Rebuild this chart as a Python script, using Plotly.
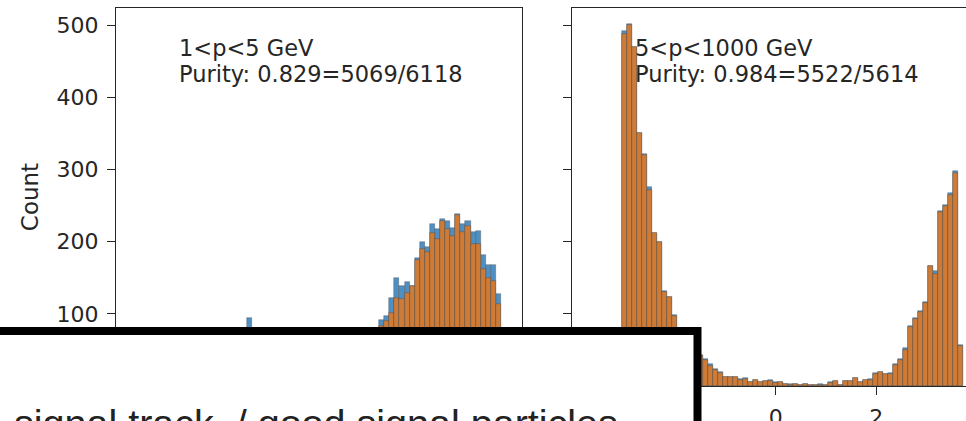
import numpy as np
import plotly.graph_objects as go

# ---------------- data ----------------
# Left panel (1<p<5 GeV): histogram bins (start, width) and counts
L_BIN_START = -2.455
L_BIN_WIDTH = 0.101
L_ALL = [8, 10, 9, 11, 12, 14, 13, 16, 15, 18,
         94,
         14, 15, 16, 15, 17, 18, 19, 21, 20, 23, 24, 26, 29, 31, 34, 37, 41, 45, 50, 56, 62, 69, 77, 80, 81,
         92, 97, 122, 149, 138, 144, 139, 177, 200, 192, 224, 217, 231, 228, 219, 238, 224, 228, 213, 215, 181, 167, 167, 127]
L_SIG = [2, 3, 2, 4, 3, 5, 4, 6, 5, 7,
         8,
         6, 7, 8, 8, 9, 10, 11, 12, 12, 14, 15, 16, 18, 20, 22, 25, 28, 31, 35, 40, 45, 51, 58, 65, 74,
         83, 90, 101, 122, 121, 129, 139, 175, 190, 185, 212, 204, 228, 218, 208, 237, 213, 222, 196, 196, 162, 150, 145, 113]

# Right panel (5<p<1000 GeV)
R_BIN_START = -3.05
R_BIN_WIDTH = 0.0997
R_ALL = [492, 501, 470, 350, 321, 275, 212, 199, 132, 123,
         98, 75, 64, 55, 48, 43, 38, 30, 23, 19,
         13, 13, 12, 10, 11, 6, 9, 6, 7, 8,
         5, 6, 3, 3, 3, 2, 3, 2, 1, 3,
         1, 5, 7, 2, 7, 7, 11, 6, 8, 10,
         18, 20, 16, 18, 30, 38, 52, 83, 94, 104,
         116, 166, 159, 243, 251, 268, 298, 57]
R_SIG = [488, 500, 470, 350, 320, 272, 212, 199, 130, 123,
         97, 75, 64, 55, 48, 42, 36, 28, 22, 18,
         12, 12, 12, 9, 10, 5, 8, 5, 7, 7,
         4, 5, 3, 2, 3, 2, 3, 2, 1, 2,
         1, 4, 7, 2, 7, 7, 11, 6, 8, 9,
         17, 20, 16, 17, 29, 36, 50, 82, 93, 102,
         115, 166, 155, 241, 250, 265, 295, 55]

PANEL_TITLES = ["1&lt;p&lt;5 GeV", "5&lt;p&lt;1000 GeV"]
PANEL_PURITY = ["Purity: 0.829=5069/6118", "Purity: 0.984=5522/5614"]
Y_TICKS = [0, 100, 200, 300, 400, 500]
X_TICKS = [-2, 0, 2]
OVERLAY_TEXT = "signal track \u00a0/ good signal particles"

# ---------------- style ----------------
BLUE = "#4f8fc2"
ORANGE = "#cd7b36"
EDGE = "rgba(60,60,60,0.55)"
AX = "#262626"
FONT = "DejaVu Sans"
FS = 22
FS_ANN = 22.5

W, H = 966, 421
ML, MT, MB = 116, 8, 35
PW = W - ML
PH = H - MT - MB


def centers(start, width, n):
    return [start + width * (i + 0.5) for i in range(n)]


fig = go.Figure()
lx = centers(L_BIN_START, L_BIN_WIDTH, len(L_ALL))
rx = centers(R_BIN_START, R_BIN_WIDTH, len(R_ALL))
for xs, allv, sig, w, xa, ya in [(lx, L_ALL, L_SIG, L_BIN_WIDTH, "x", "y"),
                                 (rx, R_ALL, R_SIG, R_BIN_WIDTH, "x2", "y2")]:
    fig.add_trace(go.Bar(x=xs, y=allv, width=w, xaxis=xa, yaxis=ya,
                         marker=dict(color=BLUE, line=dict(color=EDGE, width=0.6)),
                         showlegend=False, hoverinfo="skip"))
    fig.add_trace(go.Bar(x=xs, y=sig, width=w, xaxis=xa, yaxis=ya,
                         marker=dict(color=ORANGE, line=dict(color=EDGE, width=0.6)),
                         showlegend=False, hoverinfo="skip"))

PX_PER_UNIT = 50.3
XMIN = -4.05
left_w = 406
right_x0 = 572
yr = [0, PH / 0.722]

axis_common = dict(showline=True, linecolor=AX, linewidth=1.3, showgrid=False, zeroline=False,
                   ticks="outside", ticklen=8, tickwidth=1.2, tickcolor=AX, automargin=False,
                   tickfont=dict(family=FONT, size=FS, color=AX))

fig.update_layout(
    width=W, height=H,
    margin=dict(l=ML, r=0, t=MT, b=MB),
    paper_bgcolor="white", plot_bgcolor="white",
    barmode="overlay", bargap=0,
    xaxis=dict(domain=[0, left_w / PW], range=[XMIN, XMIN + left_w / PX_PER_UNIT],
               mirror=True, tickvals=X_TICKS, anchor="y", ticklabelstandoff=3, **axis_common),
    yaxis=dict(domain=[0, 1], range=yr, mirror=True, tickvals=Y_TICKS, anchor="x",
               ticklabelstandoff=4,
               title=dict(text="Count", font=dict(family=FONT, size=23, color=AX), standoff=11),
               **axis_common),
    xaxis2=dict(domain=[(right_x0 - ML) / PW, 1],
                range=[XMIN, XMIN + (W - right_x0) / PX_PER_UNIT],
                mirror=True, tickvals=X_TICKS, anchor="y2", ticklabelstandoff=3, **axis_common),
    yaxis2=dict(domain=[0, 1], range=yr, mirror=False, tickvals=Y_TICKS, anchor="x2",
                showticklabels=False, **axis_common),
)


def px2x(px):
    return (px - ML) / PW


def py2y(py):
    return (MT + PH - py) / PH


for xpx, t1, t2 in [(177, PANEL_TITLES[0], PANEL_PURITY[0]),
                    (633, PANEL_TITLES[1], PANEL_PURITY[1])]:
    for ypx, txt in [(48, t1), (74, t2)]:
        fig.add_annotation(x=px2x(xpx), y=py2y(ypx), xref="paper", yref="paper",
                           xanchor="left", yanchor="middle", align="left", showarrow=False,
                           text=txt, font=dict(family=FONT, size=FS_ANN, color=AX))

# overlay box (white with thick black border) covering the lower-left part
fig.add_shape(type="rect", xref="paper", yref="paper", layer="above",
              x0=px2x(-30), x1=px2x(697.5), y0=py2y(480), y1=py2y(331),
              fillcolor="white", line=dict(color="black", width=8))
fig.add_annotation(x=px2x(12), y=py2y(423), xref="paper", yref="paper",
                   xanchor="left", yanchor="middle", showarrow=False,
                   text=OVERLAY_TEXT,
                   font=dict(family="Liberation Sans", size=39.5, color="#222222"))

fig.write_html("out.html", config={"displayModeBar": False},
               post_script="document.body.style.margin='0';document.body.style.padding='0';")
